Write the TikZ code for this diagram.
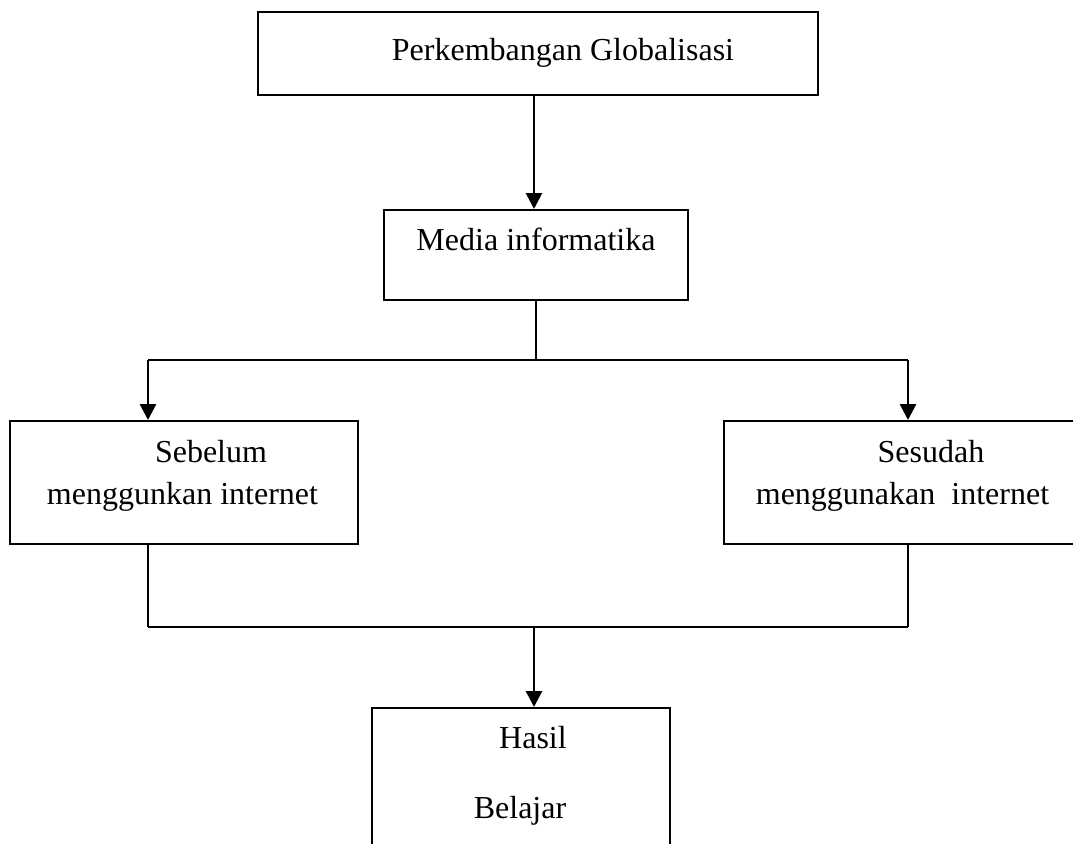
\documentclass[tikz,border=0pt]{standalone}
\usepackage{fontspec}
\setmainfont{Liberation Serif}
\usetikzlibrary{arrows.meta}
\begin{document}
\begin{tikzpicture}[x=1pt,y=-1pt,
  box/.style={draw, line width=2pt, inner sep=0pt},
  lbl/.style={font=\fontsize{32}{38}\selectfont, inner sep=0pt, anchor=base},
  conn/.style={line width=1.8pt},
  thick conn/.style={line width=2.8pt},
  arr/.style={line width=2.8pt, -{Triangle[width=16pt,length=16pt]}}]
\path[use as bounding box] (0,0) rectangle (1073,843);
\clip (0,0) rectangle (1073,843);
% boxes
\node[box, minimum width=560pt, minimum height=83pt] (top) at (538,53.5) {};
\node[box, minimum width=304pt, minimum height=90pt] (media) at (536,255) {};
\node[box, minimum width=348pt, minimum height=123pt] (left) at (184,482.5) {};
\node[box, minimum width=368pt, minimum height=123pt] (right) at (908,482.5) {};
\node[box, minimum width=298pt, minimum height=200pt] (bottom) at (521,808) {};
% texts
\node[lbl] (t1) at (563,61) {Perkembangan Globalisasi};
\node[lbl] (t2) at (536,250) {Media informatika};
\node[lbl] (t3a) at (211,462) {Sebelum};
\node[lbl] (t3b) at (182.5,504) {menggunkan internet};
\node[lbl] (t4a) at (931,462) {Sesudah};
\node[lbl] (t4b) at (902.5,504) {menggunakan~~internet};
\node[lbl] (t5a) at (533,748) {Hasil};
\node[lbl] (t5b) at (520,818) {Belajar};
% connectors
\coordinate (split) at (536,360);
\coordinate (join) at (534,627);
\draw[arr] (top.south -| 534,0) -- (media.north -| 534,0);
\draw[conn] (media.south) -- (split);
\draw[conn] ([xshift=-36pt]left.north |- split) -- (right.north |- split);
\draw[arr] ([xshift=-36pt]left.north |- split) -- ([xshift=-36pt]left.north);
\draw[arr] (right.north |- split) -- (right.north);
\draw[conn] ([xshift=-36pt]left.south) -- ([xshift=-36pt]left.south |- join);
\draw[conn] (right.south) -- (right.south |- join);
\draw[thick conn] ([xshift=-36pt]left.south |- join) -- (right.south |- join);
\draw[arr] (join) -- (join |- bottom.north);
\end{tikzpicture}
\end{document}
